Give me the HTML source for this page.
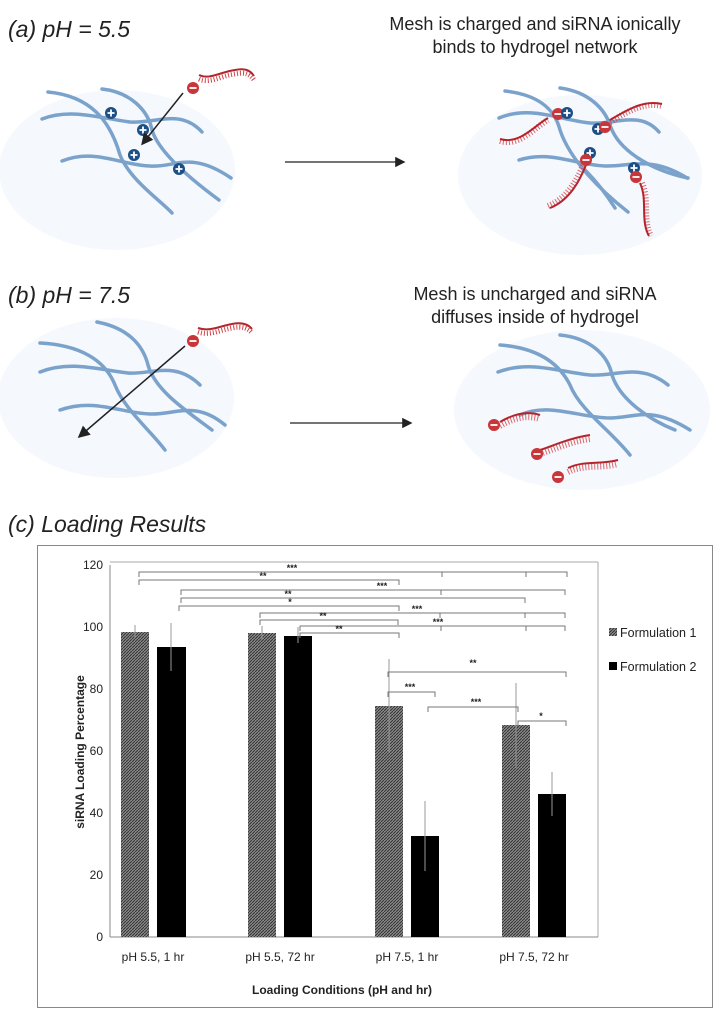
<!DOCTYPE html>
<html><head><meta charset="utf-8"><style>
body{margin:0;background:#fff;}
svg{display:block;font-family:"Liberation Sans",sans-serif;}
</style></head><body>
<svg width="727" height="1021" viewBox="0 0 727 1021" xmlns="http://www.w3.org/2000/svg">
<defs>
<pattern id="hatch" width="3" height="3" patternUnits="userSpaceOnUse">
<rect width="3" height="3" fill="#8a8a8a"/><path d="M0 3L3 0" stroke="#333" stroke-width="1"/>
</pattern>
<marker id="ah" markerWidth="8" markerHeight="8" refX="6" refY="4" orient="auto"><path d="M0 0L8 4L0 8z" fill="#222"/></marker>
<g id="plus"><circle r="6" fill="#1d4f86"/><path d="M-3.5 0H3.5M0 -3.5V3.5" stroke="#fff" stroke-width="1.8"/></g>
<g id="minus"><circle r="6" fill="#c9363a"/><path d="M-3.5 0H3.5" stroke="#fff" stroke-width="1.8"/></g>
</defs>

<!-- Titles -->
<text x="8" y="37" font-size="23" font-style="italic" fill="#222">(a) pH = 5.5</text>
<text x="535" y="30" font-size="18" text-anchor="middle" fill="#222">Mesh is charged and siRNA ionically</text>
<text x="535" y="53" font-size="18" text-anchor="middle" fill="#222">binds to hydrogel network</text>
<text x="8" y="303" font-size="23" font-style="italic" fill="#222">(b) pH = 7.5</text>
<text x="535" y="300" font-size="18" text-anchor="middle" fill="#222">Mesh is uncharged and siRNA</text>
<text x="535" y="323" font-size="18" text-anchor="middle" fill="#222">diffuses inside of hydrogel</text>
<text x="8" y="532" font-size="23" font-style="italic" fill="#222">(c) Loading Results</text>

<!-- (a) left -->
<ellipse cx="117" cy="170" rx="118" ry="80" fill="#f5f8fd"/>
<g fill="none" stroke="#7aa2cb" stroke-width="3.5" stroke-linecap="round">
<path d="M48 92C90 96 110 120 120 155C130 180 160 200 172 213"/>
<path d="M102 89C130 92 148 110 152 130C158 150 185 175 219 200"/>
<path d="M42 119C70 108 100 118 130 122C155 124 180 108 202 132"/>
<path d="M62 161C95 148 120 165 150 166C175 168 190 150 231 178"/>
</g>
<use href="#plus" x="111" y="113"/><use href="#plus" x="143" y="130"/><use href="#plus" x="134" y="155"/><use href="#plus" x="179" y="169"/>
<line x1="183" y1="93" x2="143" y2="143" stroke="#222" stroke-width="1.5" marker-end="url(#ah)"/>
<g fill="none"><path d="M199 75C210 80 220 72 235 70C245 68 250 70 254 76" stroke="#b3252b" stroke-width="2"/>
<path d="M199 79C210 84 220 76 235 74C245 72 250 74 254 80" stroke="#d0454a" stroke-width="5" stroke-dasharray="1 2"/></g>
<use href="#minus" x="193" y="88"/>

<line x1="285" y1="162" x2="403" y2="162" stroke="#222" stroke-width="1.3" marker-end="url(#ah)"/>

<!-- (a) right -->
<ellipse cx="580" cy="175" rx="122" ry="80" fill="#f5f8fd"/>
<g fill="none" stroke="#7aa2cb" stroke-width="3.5" stroke-linecap="round">
<path d="M505 91C540 95 555 110 560 130C570 160 600 190 628 212"/>
<path d="M560 88C590 92 605 110 610 125C618 150 650 170 688 178"/>
<path d="M499 118C530 105 560 120 590 123C615 125 640 110 659 132"/>
<path d="M519 160C550 150 575 165 605 166C630 167 650 155 687 178"/>
<path d="M585 170C600 185 610 200 615 208"/>
</g>
<g fill="none" stroke="#d0454a" stroke-width="6" stroke-dasharray="1 2" opacity="0.8">
<path d="M500 141C520 147 535 127 548 120"/><path d="M610 122C630 110 645 102 662 106"/>
<path d="M548 206C568 198 578 178 584 163"/><path d="M642 183C650 200 642 220 651 236"/>
</g>
<g fill="none" stroke="#b3252b" stroke-width="2">
<path d="M500 139C520 145 535 125 548 118"/><path d="M610 120C630 108 645 100 662 104"/>
<path d="M550 208C570 200 580 180 586 165"/><path d="M640 183C648 200 640 220 649 236"/>
</g>
<use href="#minus" x="558" y="114"/><use href="#plus" x="567" y="113"/>
<use href="#plus" x="598" y="129"/><use href="#minus" x="605" y="127"/>
<use href="#plus" x="590" y="153"/><use href="#minus" x="586" y="160"/>
<use href="#plus" x="634" y="168"/><use href="#minus" x="636" y="177"/>

<!-- (b) left -->
<ellipse cx="116" cy="398" rx="118" ry="80" fill="#f5f8fd"/>
<g fill="none" stroke="#7aa2cb" stroke-width="3.5" stroke-linecap="round">
<path d="M40 343C80 345 105 360 115 385C125 410 150 430 165 450"/>
<path d="M97 322C128 328 143 345 148 365C155 390 185 410 212 430"/>
<path d="M40 372C70 360 100 370 128 373C150 375 175 360 200 385"/>
<path d="M60 410C95 398 120 413 150 414C175 415 195 400 225 425"/>
</g>
<line x1="185" y1="346" x2="80" y2="436" stroke="#222" stroke-width="1.5" marker-end="url(#ah)"/>
<g fill="none"><path d="M198 328C210 332 220 326 232 324C242 322 248 324 252 329" stroke="#b3252b" stroke-width="2"/>
<path d="M198 332C210 336 220 330 232 328C242 326 248 328 252 333" stroke="#d0454a" stroke-width="5" stroke-dasharray="1 2"/></g>
<use href="#minus" x="193" y="341"/>

<line x1="290" y1="423" x2="410" y2="423" stroke="#222" stroke-width="1.3" marker-end="url(#ah)"/>

<!-- (b) right -->
<ellipse cx="582" cy="410" rx="128" ry="80" fill="#f5f8fd"/>
<g fill="none" stroke="#7aa2cb" stroke-width="3.5" stroke-linecap="round">
<path d="M500 345C540 348 560 365 570 385C580 410 610 430 630 455"/>
<path d="M560 335C590 338 608 355 612 375C620 400 650 420 675 430"/>
<path d="M498 372C530 360 560 372 590 375C615 377 640 362 668 385"/>
<path d="M520 415C550 402 580 418 610 418C635 418 650 405 690 430"/>
</g>
<g fill="none" stroke="#d0454a" stroke-width="6" stroke-dasharray="1 2" opacity="0.8">
<path d="M500 426C510 420 525 414 540 419"/><path d="M540 454C555 449 570 442 590 439"/><path d="M568 472C585 464 600 469 618 464"/>
</g>
<g fill="none" stroke="#b3252b" stroke-width="2">
<path d="M500 422C510 416 525 410 540 415"/><path d="M540 450C555 445 570 438 590 435"/><path d="M568 468C585 460 600 465 618 460"/>
</g>
<use href="#minus" x="494" y="425"/><use href="#minus" x="537" y="454"/><use href="#minus" x="558" y="477"/>

<!-- Chart frame -->
<rect x="37.5" y="545.5" width="675" height="462" fill="none" stroke="#888" stroke-width="1"/>
<line x1="110" y1="562" x2="598" y2="562" stroke="#aaa"/>
<line x1="598" y1="562" x2="598" y2="937" stroke="#aaa"/>
<line x1="110" y1="565" x2="110" y2="937" stroke="#888"/>
<line x1="110" y1="937" x2="598" y2="937" stroke="#888"/>
<g font-size="12" text-anchor="end" fill="#222">
<text x="103" y="569">120</text><text x="103" y="631">100</text><text x="103" y="693">80</text>
<text x="103" y="755">60</text><text x="103" y="817">40</text><text x="103" y="879">20</text><text x="103" y="941">0</text>
</g>
<text transform="translate(84,752) rotate(-90)" font-size="12" font-weight="bold" text-anchor="middle" fill="#222">siRNA Loading Percentage</text>

<!-- Bars -->
<rect x="121" y="632" width="28" height="305" fill="url(#hatch)"/>
<rect x="157" y="647" width="29" height="290" fill="#000"/>
<rect x="248" y="633" width="28" height="304" fill="url(#hatch)"/>
<rect x="284" y="636" width="28" height="301" fill="#000"/>
<rect x="375" y="706" width="28" height="231" fill="url(#hatch)"/>
<rect x="411" y="836" width="28" height="101" fill="#000"/>
<rect x="502" y="725" width="28" height="212" fill="url(#hatch)"/>
<rect x="538" y="794" width="28" height="143" fill="#000"/>

<!-- Error bars -->
<g stroke="#999" stroke-width="1">
<line x1="135" y1="625" x2="135" y2="638"/><line x1="171" y1="623" x2="171" y2="671"/>
<line x1="262" y1="626" x2="262" y2="639"/><line x1="298" y1="627" x2="298" y2="643"/>
<line x1="389" y1="659" x2="389" y2="752"/><line x1="425" y1="801" x2="425" y2="871"/>
<line x1="516" y1="683" x2="516" y2="768"/><line x1="552" y1="772" x2="552" y2="816"/>
</g>

<!-- Significance brackets -->
<g fill="none" stroke="#777" stroke-width="1">
<path d="M139 577V572H567V577M442 572V577M526 572V577"/>
<path d="M139 585V580H399V585"/>
<path d="M181 595V590H565V595M441 590V595"/>
<path d="M181 603V598H525V603"/>
<path d="M179 611V606H399V611"/>
<path d="M260 618V613H565V618M440 613V618M525 613V618"/>
<path d="M260 625V620H398V625"/>
<path d="M300 631V626H565V631M441 626V631M526 626V631"/>
<path d="M300 638V633H399V638"/>
<path d="M388 677V672H566V677"/>
<path d="M388 697V692H435V697"/>
<path d="M428 712V707H518V712"/>
<path d="M518 726V721H566V726"/>
</g>
<g font-size="9" font-weight="bold" text-anchor="middle" fill="#222">
<text x="292" y="571">***</text><text x="263" y="579">**</text><text x="382" y="589">***</text>
<text x="288" y="597">**</text><text x="290" y="605">*</text><text x="417" y="612">***</text>
<text x="323" y="619">**</text><text x="438" y="625">***</text><text x="339" y="632">**</text>
<text x="473" y="666">**</text><text x="410" y="690">***</text><text x="476" y="705">***</text><text x="541" y="719">*</text>
</g>

<!-- X labels -->
<g font-size="12" text-anchor="middle" fill="#222">
<text x="153" y="961">pH 5.5, 1 hr</text><text x="280" y="961">pH 5.5, 72 hr</text>
<text x="407" y="961">pH 7.5, 1 hr</text><text x="534" y="961">pH 7.5, 72 hr</text>
</g>
<text x="342" y="994" font-size="12" font-weight="bold" text-anchor="middle" fill="#222">Loading Conditions (pH and hr)</text>

<!-- Legend -->
<rect x="609" y="628" width="8" height="8" fill="url(#hatch)"/>
<text x="620" y="637" font-size="12.5" fill="#222">Formulation 1</text>
<rect x="609" y="662" width="8" height="8" fill="#000"/>
<text x="620" y="671" font-size="12.5" fill="#222">Formulation 2</text>
</svg>
</body></html>
